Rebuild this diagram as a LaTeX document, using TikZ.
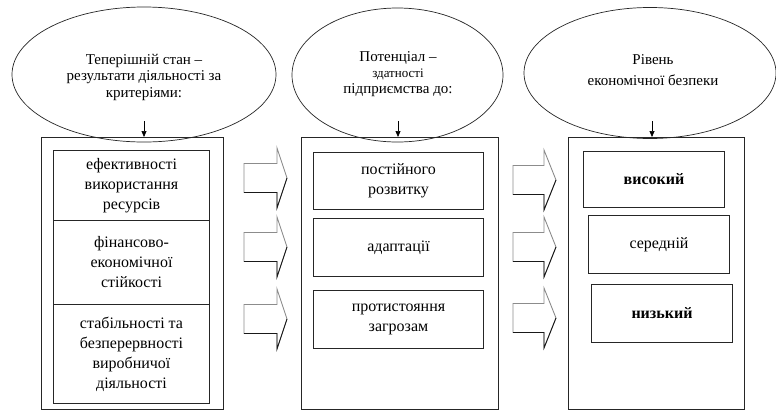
\documentclass[tikz,border=0pt]{standalone}
\usepackage{fontspec}
\setmainfont{Liberation Serif}
\usetikzlibrary{shapes.geometric,arrows.meta}
\tikzset{
  ell/.style={draw=black!85, line width=0.7bp, ellipse, inner sep=0pt},
  outerbox/.style={draw=black!85, line width=0.9bp, rectangle, inner sep=0pt, anchor=north west},
  innerbox/.style={draw=black!85, line width=1bp, rectangle, inner sep=0pt, anchor=north west, align=center},
  elltext/.style={align=center, inner sep=0pt},
  smallarr/.style={draw=black, line width=0.7bp, -{Triangle[length=6bp,width=5bp]}},
  arrline/.style={draw=black!45, line width=0.9bp, line join=miter},
  arrdark/.style={draw=black!90, line width=0.9bp},
}
\newcommand\bigfont{\fontsize{16bp}{20bp}\selectfont}
\newcommand\ellfont{\fontsize{15bp}{16.5bp}\selectfont}
\newcommand\blockarr[4]{%
  \draw[arrline] (#1,{#4-14.5}) -- (#2,{#4-14.5}) -- (#2,{#4-30}) -- (#3,#4) -- (#2,{#4+30}) -- (#2,{#4+14.5}) -- (#1,{#4+14.5}) -- cycle;
  \draw[arrdark] (#1,{#4+14.5}) -- (#2,{#4+14.5}) -- (#2,{#4+30}) -- (#3,#4);}
\begin{document}
\begin{tikzpicture}[x=1bp,y=-1bp]
\useasboundingbox[fill=white] (0,0) rectangle (776,411);

% ellipses
\node[ell, minimum width=264bp, minimum height=135bp] (e1) at (144,74.5) {};
\node[ell, minimum width=211bp, minimum height=134bp] (e2) at (397.5,75) {};
\node[ell, minimum width=252bp, minimum height=131bp] (e3) at (650,73) {};

\node[elltext, font=\ellfont] (e1t) at (144,77) {Теперішній стан –\\результати діяльності за\\критеріями:};
\node[elltext, font=\fontsize{15bp}{16bp}\selectfont] (e2t) at (398,74.5) {Потенціал –\\{\fontsize{13bp}{16bp}\selectfont здатності}\\підприємства до:};
\node[elltext, font=\fontsize{15bp}{21bp}\selectfont] (e3t) at (653,70.5) {Рівень\\економічної безпеки};

% outer boxes
\node[outerbox, minimum width=182bp, minimum height=272bp] (o1) at (41,137) {};
\node[outerbox, minimum width=197bp, minimum height=272bp] (o2) at (301,137) {};
\node[outerbox, minimum width=176bp, minimum height=272bp] (o3) at (568,137) {};

% small arrows
\coordinate (c1) at (144,121);
\coordinate (c2) at (398,121);
\coordinate (c3) at (652,121);
\draw[smallarr] (c1) -- (c1 |- o1.north);
\draw[smallarr] (c2) -- (c2 |- o2.north);
\draw[smallarr] (c3) -- (c3 |- o3.north);

% inner boxes column 1
\node[innerbox, minimum width=156bp, minimum height=70bp, font=\bigfont] (i11) at (53,150) {ефективності\\використання\\ресурсів};
\node[innerbox, minimum width=156bp, minimum height=84bp, font=\bigfont] (i12) at (53,220) {фінансово-\\економічної\\стійкості};
\node[innerbox, minimum width=156bp, minimum height=99bp, font=\bigfont] (i13) at (53,304) {стабільності та\\безперервності\\виробничої\\діяльності};

% inner boxes column 2
\node[innerbox, minimum width=170bp, minimum height=57bp, font=\bigfont] (i21) at (313,152) {постійного\\розвитку};
\node[innerbox, minimum width=170bp, minimum height=58bp, font=\bigfont] (i22) at (313,218) {адаптації};
\node[innerbox, minimum width=170bp, minimum height=58bp, font=\bigfont] (i23) at (313,290) {протистояння\\загрозам};

% inner boxes column 3
\node[innerbox, minimum width=141bp, minimum height=56bp, font=\bigfont\bfseries] (i31) at (583,151) {високий};
\node[innerbox, minimum width=141bp, minimum height=58bp, font=\bigfont] (i32) at (588,215) {середній};
\node[innerbox, minimum width=141bp, minimum height=58bp, font=\bigfont\bfseries] (i33) at (591,284) {низький};

% block arrows
\blockarr{244}{277}{287}{178}
\blockarr{244}{277}{287}{247}
\blockarr{244}{277}{287}{319}
\blockarr{513}{544}{556}{180}
\blockarr{513}{544}{556}{247}
\blockarr{513}{544}{556}{318}
\end{tikzpicture}
\end{document}
